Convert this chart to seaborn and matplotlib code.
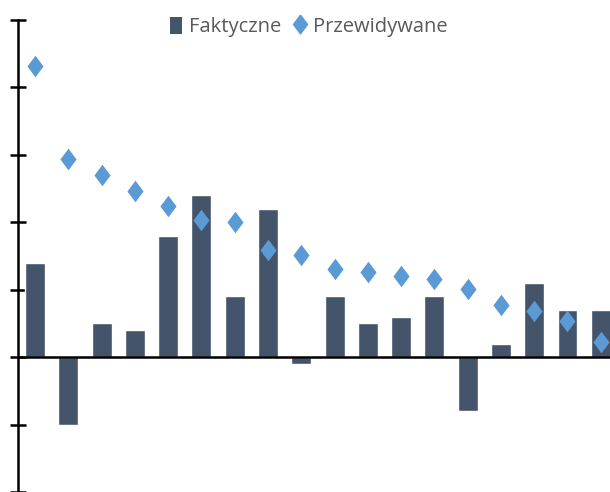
import matplotlib
matplotlib.use("Agg")
import matplotlib.pyplot as plt
import seaborn as sns
import pandas as pd
from matplotlib.patches import Patch
from matplotlib.lines import Line2D

categories = [str(i) for i in range(1, 19)]
actual = [1.4, -1.0, 0.5, 0.4, 1.8, 2.4, 0.9, 2.2, -0.1, 0.9, 0.5, 0.6, 0.9, -0.8, 0.2, 1.1, 0.7, 0.7]
predicted = [4.32, 2.94, 2.70, 2.47, 2.24, 2.04, 2.0, 1.59, 1.52, 1.31, 1.27, 1.21, 1.16, 1.01, 0.78, 0.69, 0.53, 0.23]
legend_labels = ["Faktyczne", "Przewidywane"]

bar_color = "#44546A"
pt_color = "#5B9BD5"

sns.set_style("white")
plt.rcParams["font.family"] = ["Open Sans", "DejaVu Sans"]

df = pd.DataFrame({"cat": categories, "actual": actual, "pred": predicted})

diamond = [(0, 1), (0.75, 0), (0, -1), (-0.75, 0), (0, 1)]

fig = plt.figure(figsize=(6.1, 4.92), dpi=100)
W, H = 610, 492
ax = fig.add_axes([18.4 / W, 0, 599 / W, 472 / H])

sns.barplot(data=df, x="cat", y="actual", color=bar_color, width=0.6,
            saturation=1, ax=ax, zorder=2)
sns.stripplot(data=df, x="cat", y="pred", color=pt_color, marker=diamond,
              size=15.5, jitter=False, linewidth=0, ax=ax, zorder=3)

ax.set_xlim(-0.5, 17.5)
ax.set_ylim(-2, 5)
ax.set_yticks(range(-2, 6))
ax.set_yticklabels([])
ax.set_xticks([])
ax.set_xlabel("")
ax.set_ylabel("")
for s in ["top", "right", "bottom"]:
    ax.spines[s].set_visible(False)
ax.spines["left"].set_linewidth(1.8)
ax.spines["left"].set_color("black")
ax.tick_params(axis="y", direction="inout", length=11, width=1.8, color="black", left=True)
ax.axhline(0, color="black", linewidth=1.8, zorder=4)

handles = [
    Patch(facecolor=bar_color, edgecolor="none"),
    Line2D([], [], marker=diamond, color=pt_color, linestyle="none", markersize=13.5),
]
fig.legend(handles, legend_labels, loc="upper center", bbox_to_anchor=(0.506, 1.003),
           ncol=2, frameon=False, fontsize=14.5, labelcolor="#595959",
           handlelength=0.6, handleheight=0.95, handletextpad=0.35, columnspacing=0.6)

fig.savefig("out.png", dpi=100)
